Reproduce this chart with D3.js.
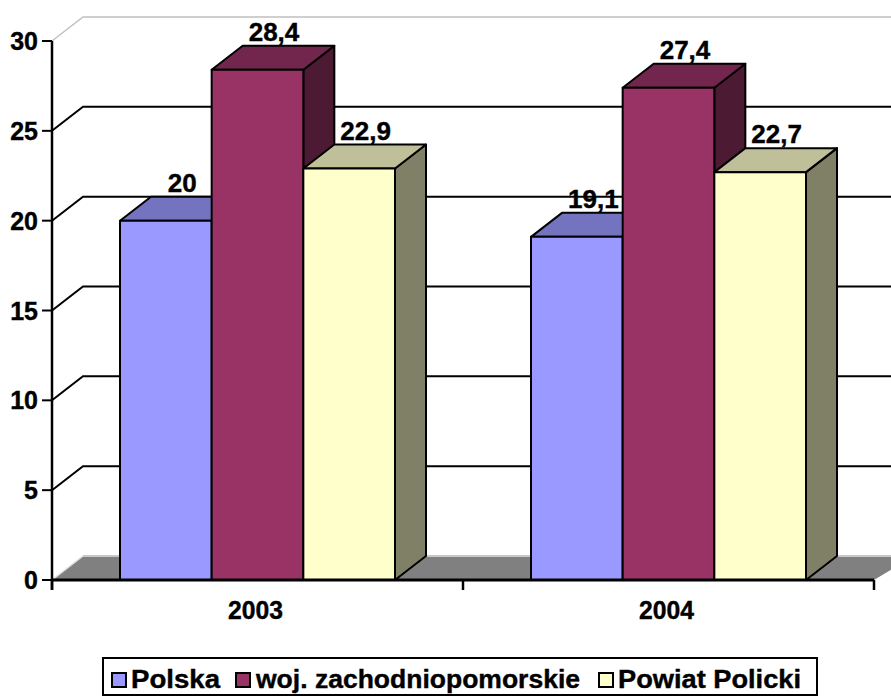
<!DOCTYPE html>
<html><head><meta charset="utf-8">
<script src="https://cdn.jsdelivr.net/npm/d3@7"></script>
<style>body{margin:0;background:#fff}svg{display:block}text{font-family:"Liberation Sans",Arial,sans-serif;font-weight:bold;fill:#000;stroke:#000;stroke-width:0.4px}</style>
</head><body><svg id="c" width="891" height="697"></svg>
<script>
const categories = ["2003", "2004"];
const seriesNames = ["Polska", "woj. zachodniopomorskie", "Powiat Policki"];
const polska = [20, 19.1];
const zachodniopomorskie = [28.4, 27.4];
const policki = [22.9, 22.7];
const valueLabels = [["20", "19,1"], ["28,4", "27,4"], ["22,9", "22,7"]];
const yTicks = [0, 5, 10, 15, 20, 25, 30];
const frontColors = ["#9999FF", "#993366", "#FFFFCC"];
const topColors = ["#7373BF", "#73264D", "#BFBF99"];
const sideColors = ["#4D4D80", "#4D1A33", "#808066"];

const series = [polska, zachodniopomorskie, policki];
const svg = d3.select("#c");
const DX = 31, DY = -24;
const x = d3.scaleBand().domain(categories).range([52, 874]).padding(0);
const xs = d3.scaleBand().domain(d3.range(series.length)).range([68, 343]).padding(0);
const y = d3.scaleLinear().domain([0, 30]).range([580, 41]);
const W = 891;

// floor
svg.append("path")
  .attr("d", `M${52},${y(0)} L${52+DX},${y(0)+DY} L${W+40},${y(0)+DY} L${874+40},${y(0)+DY} L${874},${y(0)} Z`)
  .attr("fill", "#808080");
svg.append("line").attr("x1", 52+DX).attr("x2", W).attr("y1", y(0)+DY).attr("y2", y(0)+DY)
  .attr("stroke", "#c8c8c8").attr("stroke-width", 2);
svg.append("line").attr("x1", 52).attr("y1", y(0)).attr("x2", 52+DX).attr("y2", y(0)+DY)
  .attr("stroke", "#e0e0e0").attr("stroke-width", 1.5);

// gridlines
yTicks.filter(t => t > 0).forEach(t => {
  const top = t === 30;
  svg.append("path")
    .attr("d", `M52,${y(t)} L${52+DX},${y(t)+DY} L${W},${y(t)+DY}`)
    .attr("fill", "none")
    .attr("stroke", top ? "#c0c0c0" : "#000")
    .attr("stroke-width", top ? 1.5 : 2);
});

// bars
categories.forEach((c, ci) => {
  series.forEach((s, si) => {
    const v = s[ci];
    const x0 = x(c) + xs(si), x1 = x0 + xs.bandwidth();
    const yt = y(v), yb = y(0);
    const g = svg.append("g").attr("stroke", "#000").attr("stroke-width", 2).attr("stroke-linejoin", "round");
    g.append("path").attr("d", `M${x1},${yt} L${x1+DX},${yt+DY} L${x1+DX},${yb+DY} L${x1},${yb} Z`).attr("fill", sideColors[si]);
    g.append("path").attr("d", `M${x0},${yt} L${x0+DX},${yt+DY} L${x1+DX},${yt+DY} L${x1},${yt} Z`).attr("fill", topColors[si]);
    g.append("rect").attr("x", x0).attr("y", yt).attr("width", x1 - x0).attr("height", yb - yt).attr("fill", frontColors[si]);
  });
});
// value labels
categories.forEach((c, ci) => {
  series.forEach((s, si) => {
    const v = s[ci];
    const cx = x(c) + xs(si) + xs.bandwidth() / 2 + DX / 2 + 1;
    svg.append("text").attr("x", cx).attr("y", y(v) + DY - 5)
      .attr("text-anchor", "middle").attr("font-size", 26).text(valueLabels[si][ci]);
  });
});

// axes
svg.append("line").attr("x1", 52).attr("x2", 52).attr("y1", y(30)).attr("y2", y(0) + 10)
  .attr("stroke", "#000").attr("stroke-width", 2.5);
svg.append("line").attr("x1", 52).attr("x2", 874).attr("y1", y(0)).attr("y2", y(0))
  .attr("stroke", "#000").attr("stroke-width", 3);
yTicks.forEach(t => {
  svg.append("line").attr("x1", 42).attr("x2", 52).attr("y1", y(t)).attr("y2", y(t)).attr("stroke", "#000").attr("stroke-width", 2);
  svg.append("text").attr("x", 38).attr("y", y(t) + 9).attr("text-anchor", "end").attr("font-size", 25).text(t);
});
[52, 463, 874].forEach(px => {
  svg.append("line").attr("x1", px).attr("x2", px).attr("y1", y(0)).attr("y2", y(0) + 10).attr("stroke", "#000").attr("stroke-width", 2.5);
});
categories.forEach(c => {
  svg.append("text").attr("x", x(c) + x.bandwidth() / 2 - 2).attr("y", 619)
    .attr("text-anchor", "middle").attr("font-size", 25).attr("textLength", 55).attr("lengthAdjust", "spacingAndGlyphs").text(c);
});

// legend
svg.append("rect").attr("x", 103).attr("y", 658).attr("width", 714).attr("height", 37)
  .attr("fill", "#fff").attr("stroke", "#000").attr("stroke-width", 2);
const legSw = [112, 236, 599];
const legTx = [[131, 89], [256, 324], [618, 183]];
seriesNames.forEach((n, i) => {
  svg.append("rect").attr("x", legSw[i]).attr("y", 673).attr("width", 14).attr("height", 14)
    .attr("fill", frontColors[i]).attr("stroke", "#000").attr("stroke-width", 2);
  svg.append("text").attr("x", legTx[i][0]).attr("y", 688).attr("font-size", 26)
    .attr("textLength", legTx[i][1]).attr("lengthAdjust", "spacingAndGlyphs").text(n);
});
</script></body></html>
